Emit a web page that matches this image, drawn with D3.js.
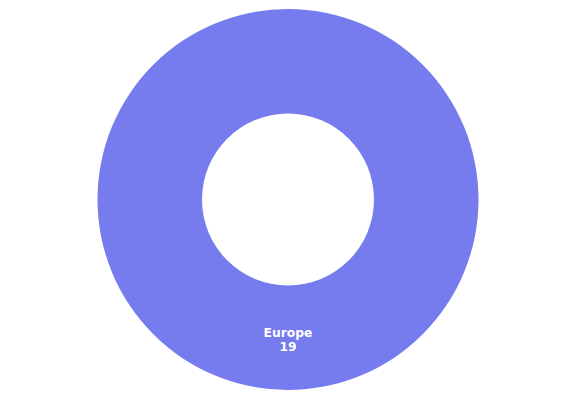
<!DOCTYPE html>
<html>
<head>
<meta charset="utf-8">
<script src="https://cdn.jsdelivr.net/npm/d3@7"></script>
<style>
html,body{margin:0;padding:0;background:#fff;}
svg{display:block;}
</style>
</head>
<body>
<svg id="chart" width="576" height="400"></svg>
<script>
const categories = ["Europe"];
const values = [19];
const colors = ["#767bee"];

const width = 576, height = 400;
const cx = 288, cy = 199.5;
const outerR = 190.5, innerR = 86;

const svg = d3.select("#chart");
const g = svg.append("g").attr("transform", `translate(${cx},${cy})`);

const data = categories.map((c, i) => ({ name: c, value: values[i] }));
const pie = d3.pie().value(d => d.value).sort(null);
const arc = d3.arc().innerRadius(innerR).outerRadius(outerR);
const arcs = pie(data);

g.selectAll("path.slice").data(arcs).enter().append("path")
  .attr("class", "slice")
  .attr("d", arc)
  .attr("fill", (d, i) => colors[i % colors.length]);

const labels = g.selectAll("text.lbl").data(arcs).enter().append("text")
  .attr("class", "lbl")
  .attr("transform", d => `translate(${arc.centroid(d)})`)
  .attr("text-anchor", "middle")
  .attr("fill", "#fff")
  .style("font-family", "DejaVu Sans, Verdana, sans-serif")
  .style("font-weight", "bold")
  .style("font-size", "12.3px");

labels.append("tspan").attr("x", 0).attr("y", -1).text(d => d.data.name);
labels.append("tspan").attr("x", 0).attr("y", 13).text(d => d.data.value);
</script>
</body>
</html>
